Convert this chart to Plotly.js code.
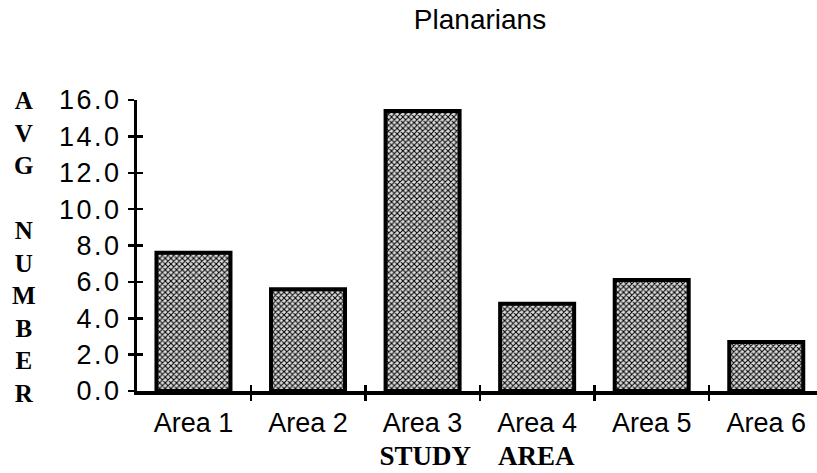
<!DOCTYPE html>
<html>
<head>
<meta charset="utf-8">
<script src="https://cdn.plot.ly/plotly-3.0.1.min.js"></script>
<style>
  html, body { margin: 0; padding: 0; background: #fff; }
  #chart { width: 817px; height: 473px; }
  .ytick text { letter-spacing: 2.5px; }
</style>
</head>
<body>
<div id="chart"></div>
<script>
// Data
const categories = ['Area 1', 'Area 2', 'Area 3', 'Area 4', 'Area 5', 'Area 6'];
const avgNumber = [7.6, 5.6, 15.4, 4.8, 6.1, 2.7];
const chartTitle = 'Planarians';
const xTitle = 'STUDY\u00a0\u00a0\u00a0\u00a0AREA';
const yTitleLetters = ['A', 'V', 'G', '\u00a0', 'N', 'U', 'M', 'B', 'E', 'R'];

const barTrace = {
  type: 'bar',
  x: categories,
  y: avgNumber,
  marker: {
    color: '#8a8a8a',
    pattern: { shape: 'x', size: 4, solidity: 0.45, fgcolor: '#000', bgcolor: '#dcdcdc' },
    line: { color: '#000', width: 4 }
  },
  hoverinfo: 'x+y'
};

// invisible copy on overlay axes so their inward ticks make the tick marks cross the axis lines
const tickTrace = {
  type: 'bar',
  x: categories,
  y: avgNumber,
  xaxis: 'x2',
  yaxis: 'y2',
  marker: { color: 'rgba(0,0,0,0)', line: { width: 0 } },
  hoverinfo: 'skip',
  showlegend: false
};

const xRange = [-0.493, 5.443];
const yRange = [0, 16];

const layout = {
  width: 817,
  height: 473,
  margin: { l: 137, r: 0, t: 100, b: 82 },
  paper_bgcolor: '#fff',
  plot_bgcolor: '#fff',
  showlegend: false,
  bargap: 0.354,
  barmode: 'overlay',
  title: {
    text: chartTitle,
    font: { family: 'Liberation Sans, Arial, sans-serif', size: 28, color: '#000' },
    x: 480 / 817, xanchor: 'center', xref: 'container',
    y: 1 - 9 / 473, yanchor: 'top', yref: 'container'
  },
  xaxis: {
    type: 'category',
    range: xRange,
    showline: true, linewidth: 4, linecolor: '#000',
    ticks: 'outside', tickson: 'boundaries', ticklen: 6, tickwidth: 2.5, tickcolor: '#000',
    tickfont: { family: 'Liberation Sans, Arial, sans-serif', size: 27, color: '#000' },
    ticklabelstandoff: 5,
    showgrid: false, zeroline: false, fixedrange: true,
    title: {
      text: xTitle,
      standoff: 10,
      font: { family: 'Liberation Serif, Times New Roman, serif', size: 27, weight: 'bold', color: '#000' }
    }
  },
  yaxis: {
    range: yRange,
    dtick: 2, tick0: 0, tickformat: '.1f',
    showline: true, linewidth: 3, linecolor: '#000',
    ticks: 'outside', ticklen: 6, tickwidth: 2.5, tickcolor: '#000',
    tickfont: { family: 'Liberation Sans, Arial, sans-serif', size: 27, color: '#000' },
    ticklabelstandoff: 1,
    showgrid: false, zeroline: false, fixedrange: true
  },
  xaxis2: {
    type: 'category', overlaying: 'x', anchor: 'y2', side: 'bottom',
    range: xRange,
    ticks: 'inside', tickson: 'boundaries', ticklen: 6, tickwidth: 2.5, tickcolor: '#000',
    showticklabels: false, showline: false, showgrid: false, zeroline: false, fixedrange: true
  },
  yaxis2: {
    overlaying: 'y', anchor: 'x2', side: 'left',
    range: yRange, dtick: 2, tick0: 0,
    ticks: 'inside', ticklen: 6, tickwidth: 2.5, tickcolor: '#000',
    showticklabels: false, showline: false, showgrid: false, zeroline: false, fixedrange: true
  },
  annotations: [{
    text: yTitleLetters.join('<br>'),
    xref: 'paper', yref: 'paper',
    x: (24 - 137) / 680, y: (391 - 246.5) / 291,
    xanchor: 'center', yanchor: 'middle',
    showarrow: false, align: 'center',
    font: { family: 'Liberation Serif, Times New Roman, serif', size: 25, weight: 'bold', color: '#000' }
  }]
};

Plotly.newPlot('chart', [barTrace, tickTrace], layout, { displayModeBar: false, staticPlot: true });
</script>
</body>
</html>
